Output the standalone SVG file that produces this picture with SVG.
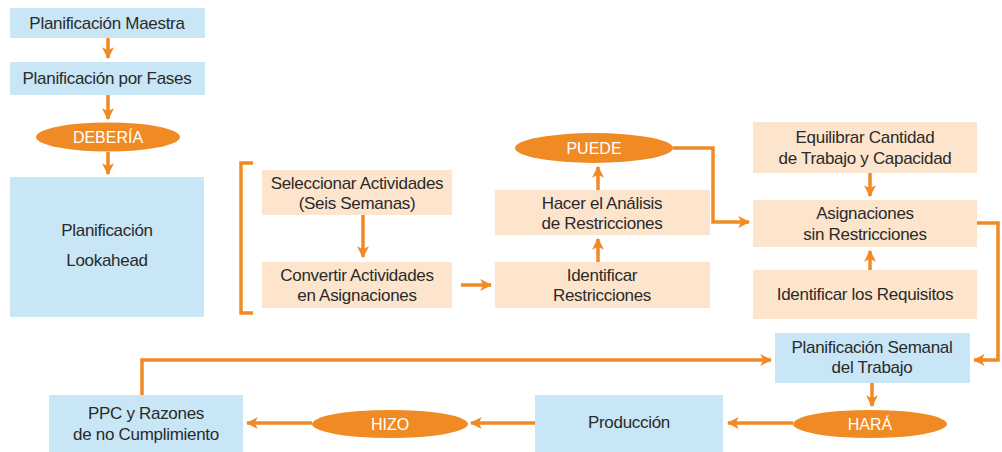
<svg xmlns="http://www.w3.org/2000/svg" width="1002" height="452" viewBox="0 0 1002 452">
<style>
.b{fill:#c8e6f6}
.p{fill:#fde4cc}
.o{fill:#f08a24}
.t{font-family:"Liberation Sans",Arial,sans-serif;font-size:17px;letter-spacing:-0.3px;fill:#2a2a2a;text-anchor:middle}
.w{font-family:"Liberation Sans",Arial,sans-serif;font-size:16px;fill:#fff;text-anchor:middle}
.c{fill:none;stroke:#f08a24;stroke-width:3.5}
</style>
<defs>
<marker id="ah" viewBox="0 0 10 10" refX="9" refY="5" markerWidth="3.4" markerHeight="3.4" orient="auto" markerUnits="strokeWidth">
<path d="M0,0 L10,5 L0,10 L2.5,5 z" fill="#f08a24"/>
</marker>
</defs>
<rect width="1002" height="452" fill="#fff"/>
<g id="connectors">
<path class="c" d="M108,38 V58" marker-end="url(#ah)"/>
<path class="c" d="M108,95 V119" marker-end="url(#ah)"/>
<path class="c" d="M108,152 V174" marker-end="url(#ah)"/>
<path class="c" d="M253,163 H241 V313 H253"/>
<path class="c" d="M363,215 V257" marker-end="url(#ah)"/>
<path class="c" d="M461,285 H491" marker-end="url(#ah)"/>
<path class="c" d="M598,262 V239" marker-end="url(#ah)"/>
<path class="c" d="M598,190 V167" marker-end="url(#ah)"/>
<path class="c" d="M673,148 H713 V222 H749" marker-end="url(#ah)"/>
<path class="c" d="M870,173 V196" marker-end="url(#ah)"/>
<path class="c" d="M870,270 V251" marker-end="url(#ah)"/>
<path class="c" d="M977,223 H998 V360 H974" marker-end="url(#ah)"/>
<path class="c" d="M142,395 V360 H771" marker-end="url(#ah)"/>
<path class="c" d="M872,383 V406" marker-end="url(#ah)"/>
<path class="c" d="M793,423 H728" marker-end="url(#ah)"/>
<path class="c" d="M535,423 H471" marker-end="url(#ah)"/>
<path class="c" d="M312,423 H247" marker-end="url(#ah)"/>
</g>
<g id="n-maestra"><rect class="b" x="10" y="8" width="195" height="30"/><text class="t" x="107" y="29">Planificación Maestra</text></g>
<g id="n-fases"><rect class="b" x="10" y="62" width="195" height="33"/><text class="t" x="107" y="84">Planificación por Fases</text></g>
<g id="n-deberia"><ellipse class="o" cx="108" cy="137" rx="72" ry="14.5"/><text class="w" x="108" y="143">DEBERÍA</text></g>
<g id="n-lookahead"><rect class="b" x="10" y="177" width="194" height="140"/><text class="t" x="107" y="236">Planificación</text><text class="t" x="107" y="266">Lookahead</text></g>
<g id="n-seleccionar"><rect class="p" x="262" y="170" width="190" height="45"/><text class="t" x="357" y="189">Seleccionar Actividades</text><text class="t" x="357" y="209">(Seis Semanas)</text></g>
<g id="n-convertir"><rect class="p" x="262" y="262" width="190" height="46"/><text class="t" x="357" y="281">Convertir Actividades</text><text class="t" x="357" y="301">en Asignaciones</text></g>
<g id="n-hacer"><rect class="p" x="495" y="190" width="215" height="45"/><text class="t" x="602" y="209">Hacer el Análisis</text><text class="t" x="602" y="229">de Restricciones</text></g>
<g id="n-identificar"><rect class="p" x="495" y="262" width="215" height="46"/><text class="t" x="602" y="281">Identificar</text><text class="t" x="602" y="301">Restricciones</text></g>
<g id="n-puede"><ellipse class="o" cx="594" cy="148" rx="79" ry="15"/><text class="w" x="594" y="154">PUEDE</text></g>
<g id="n-equilibrar"><rect class="p" x="753" y="122" width="224" height="51"/><text class="t" x="865" y="143">Equilibrar Cantidad</text><text class="t" x="865" y="164">de Trabajo y Capacidad</text></g>
<g id="n-asignaciones"><rect class="p" x="753" y="200" width="224" height="47"/><text class="t" x="865" y="219">Asignaciones</text><text class="t" x="865" y="240">sin Restricciones</text></g>
<g id="n-requisitos"><rect class="p" x="753" y="270" width="224" height="49"/><text class="t" x="865" y="300">Identificar los Requisitos</text></g>
<g id="n-semanal"><rect class="b" x="775" y="333" width="195" height="50"/><text class="t" x="872" y="353">Planificación Semanal</text><text class="t" x="872" y="373">del Trabajo</text></g>
<g id="n-hara"><ellipse class="o" cx="870" cy="424" rx="77" ry="14"/><text class="w" x="870" y="430">HARÁ</text></g>
<g id="n-produccion"><rect class="b" x="535" y="395" width="188" height="57"/><text class="t" x="629" y="428">Producción</text></g>
<g id="n-hizo"><ellipse class="o" cx="390" cy="424" rx="78" ry="14"/><text class="w" x="390" y="430">HIZO</text></g>
<g id="n-ppc"><rect class="b" x="49" y="395" width="194" height="57"/><text class="t" x="146" y="419">PPC y Razones</text><text class="t" x="146" y="440">de no Cumplimiento</text></g>
</svg>
